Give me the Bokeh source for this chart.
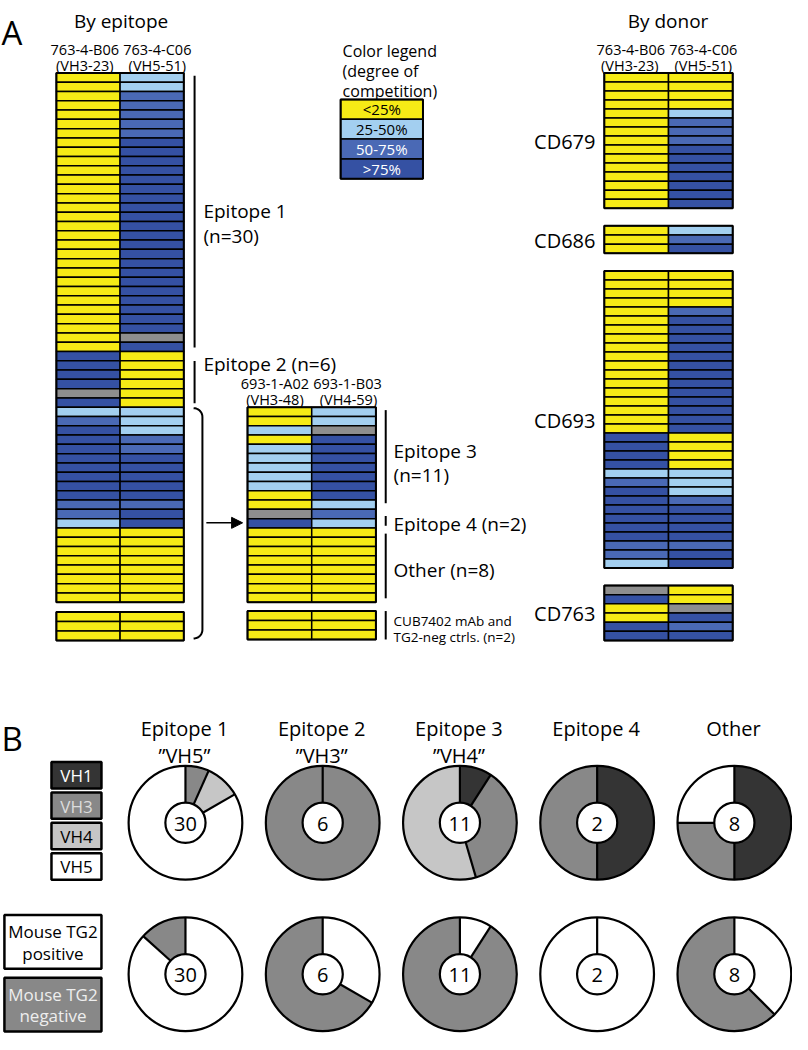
import math
from bokeh.plotting import figure
from bokeh.models import Range1d, Arrow, NormalHead
from bokeh.embed import file_html
from bokeh.resources import INLINE
from bokeh.core.properties import value

# ---------------- data ----------------
# competition codes: Y <25%, L 25-50%, M 50-75%, D >75%, G not determined
legend_codes = ["Y", "L", "M", "D"]
legend_labels = ["<25%", "25-50%", "50-75%", ">75%"]
legend_text_colors = ["black", "black", "white", "white"]
level_colors = {"Y": "#f6eb16", "L": "#a3cff0", "M": "#4a69b5", "D": "#3551a3", "G": "#8e8e8e"}

# By epitope: 763-4-B06 (VH3-23) / 763-4-C06 (VH5-51)
ep_b06 = list("YYYYYYYYYYYYYYYYYYYYYYYYYYYYYY" + "DDDDGD" + "LMDDDDDDDDMML" + "YYYYYYYY")
ep_c06 = list("LLMMMMMDDDDDDDDDDDDDDDDDDDDDGD" + "YYYYYY" + "LLLMMDDDDDMDD" + "YYYYYYYY")
ctrl_b06 = list("YYY")
ctrl_c06 = list("YYY")

# Subgroup: 693-1-A02 (VH3-48) / 693-1-B03 (VH4-59)
sub_a02 = list("YYLYLLLLLYY" + "GD" + "YYYYYYYY")
sub_b03 = list("LLGDDDDDDDL" + "ML" + "YYYYYYYY")
subctrl_a02 = list("YYY")
subctrl_b03 = list("YYY")

# By donor
donor_names = ["CD679", "CD686", "CD693", "CD763"]
donor_b06 = [list("YYYYYYYYYYYYYYY"),
             list("YYY"),
             list("YYYYYYYYYYYYYYYYYY" + "DDDD" + "LMDDDDDDMML"),
             list("GDYYDD")]
donor_c06 = [list("YYYYLMMMDDDDDDD"),
             list("LMD"),
             list("YYYYMDDDDDDDDDDDDD" + "YYYY" + "LLLMDDDDMDD"),
             list("YYGDMD")]

# Part B pies
pie_titles = ["Epitope 1", "Epitope 2", "Epitope 3", "Epitope 4", "Other"]
pie_subtitles = ["\u201dVH5\u201d", "\u201dVH3\u201d", "\u201dVH4\u201d", "", ""]
pie_n = [30, 6, 11, 2, 8]
vh1 = [0, 0, 1, 1, 4]
vh3 = [2, 6, 4, 1, 2]
vh4 = [3, 0, 6, 0, 0]
vh5 = [25, 0, 0, 0, 2]
tg2_pos = [26, 2, 1, 2, 3]
tg2_neg = [4, 4, 10, 0, 5]
vh_labels = ["VH1", "VH3", "VH4", "VH5"]
vh_colors = ["#343434", "#888888", "#c6c6c6", "#ffffff"]
vh_text_colors = ["white", "#dddddd", "black", "black"]
tg2_labels = [("Mouse TG2", "positive"), ("Mouse TG2", "negative")]
tg2_colors = ["#ffffff", "#888888"]
tg2_text_colors = ["black", "#eeeeee"]

FONT = "Open Sans"

# ---------------- figure ----------------
W, H = 792, 1034
p = figure(width=W, height=H, x_range=Range1d(0, 808), y_range=Range1d(0, H * 808 / W),
           output_backend="svg", toolbar_location=None, min_border=0)
p.axis.visible = False
p.grid.visible = False
p.outline_line_color = None
p.background_fill_color = "white"
p.border_fill_color = "white"


def Y(py):
    return 1050 - py


def txt(x, y, s, size, align="left", baseline="alphabetic", color="black"):
    p.text(x=[x], y=[Y(y)], text=[s], text_font=value(FONT),
           text_font_size=value(f"{size}px"), text_align=align,
           text_baseline=baseline, text_color=color)


def block(col_a, col_b, x0, x1, y0, y1):
    n = len(col_a)
    h = (y1 - y0) / n
    xm = (x0 + x1) / 2
    L, R, T, B, C = [], [], [], [], []
    for i, (a, b) in enumerate(zip(col_a, col_b)):
        t = y0 + i * h
        for (l, r, c) in ((x0, xm, a), (xm, x1, b)):
            L.append(l); R.append(r); T.append(Y(t)); B.append(Y(t + h))
            C.append(level_colors[c])
    p.quad(left=L, right=R, top=T, bottom=B, fill_color=C, line_color="black", line_width=1.5)
    p.quad(left=[x0], right=[x1], top=[Y(y0)], bottom=[Y(y1)], fill_color=None,
           line_color="black", line_width=2)


def vbar_line(x, y0, y1):
    p.segment(x0=[x], y0=[Y(y0)], x1=[x], y1=[Y(y1)], line_color="black", line_width=2)


HDR = 14.5

# ---------------- Panel A ----------------
txt(1, 28, "A", 33)
txt(123, 16, "By epitope", 19, align="center")
txt(681, 16, "By donor", 19, align="center")

# left heatmap
txt(86, 45, "763-4-B06", HDR, align="center")
txt(160, 45, "763-4-C06", HDR, align="center")
txt(86, 61, "(VH3-23)", HDR, align="center")
txt(160, 61, "(VH5-51)", HDR, align="center")
block(ep_b06, ep_c06, 57, 187, 69, 609)
block(ctrl_b06, ctrl_c06, 57, 187, 619, 648)

vbar_line(198, 72, 349)
vbar_line(198, 363, 406)
txt(207, 210, "Epitope 1", 19)
txt(207, 235, "(n=30)", 19)
txt(207, 366, "Epitope 2 (n=6)", 19)

# brace ")"
bx, by = [], []
for k in range(11):
    t = math.radians(9 * k)
    bx.append(197 + 9 * math.sin(t)); by.append(Y(420 - 9 * math.cos(t)))
for k in range(11):
    t = math.radians(9 * k)
    bx.append(197 + 9 * math.cos(t)); by.append(Y(637 + 9 * math.sin(t)))
p.line(bx, by, line_color="black", line_width=2)

p.add_layout(Arrow(end=NormalHead(size=11, fill_color="black", line_color="black"),
                   x_start=210, y_start=Y(528), x_end=247, y_end=Y(528),
                   line_color="black", line_width=1.5))

# middle heatmap
txt(280, 386, "693-1-A02", HDR, align="center")
txt(354, 386, "693-1-B03", HDR, align="center")
txt(280, 402, "(VH3-48)", HDR, align="center")
txt(355, 402, "(VH4-59)", HDR, align="center")
block(sub_a02, sub_b03, 252, 383, 410, 609)
block(subctrl_a02, subctrl_b03, 252, 383, 618, 647)

vbar_line(393, 413, 508)
vbar_line(393, 521, 531)
vbar_line(393, 539, 605)
vbar_line(393, 618, 647)
txt(401, 455, "Epitope 3", 19)
txt(401, 479, "(n=11)", 19)
txt(401, 529, "Epitope 4 (n=2)", 19)
txt(401, 576, "Other (n=8)", 19)
txt(401, 628, "CUB7402 mAb and", 13.5)
txt(401, 644, "TG2-neg ctrls. (n=2)", 13.5)

# colour legend
txt(349, 47, "Color legend", 16)
txt(349, 67, "(degree of", 16)
txt(349, 87, "competition)", 16)
lx0, lx1, ly0, ly1 = 347, 431, 96, 177
lh = (ly1 - ly0) / len(legend_codes)
p.quad(left=[lx0] * 4, right=[lx1] * 4,
       top=[Y(ly0 + i * lh) for i in range(4)], bottom=[Y(ly0 + (i + 1) * lh) for i in range(4)],
       fill_color=[level_colors[c] for c in legend_codes], line_color="black", line_width=1.5)
p.quad(left=[lx0], right=[lx1], top=[Y(ly0)], bottom=[Y(ly1)], fill_color=None,
       line_color="black", line_width=2)
for i, (lab, tc) in enumerate(zip(legend_labels, legend_text_colors)):
    txt((lx0 + lx1) / 2, ly0 + (i + 0.5) * lh, lab, 15, align="center", baseline="middle", color=tc)

# right heatmap (by donor)
txt(643, 45, "763-4-B06", HDR, align="center")
txt(717, 45, "763-4-C06", HDR, align="center")
txt(642, 61, "(VH3-23)", HDR, align="center")
txt(717, 61, "(VH5-51)", HDR, align="center")
donor_spans = [(69, 207), (225, 253), (271, 574), (592, 648)]
for name, a, b, (y0, y1) in zip(donor_names, donor_b06, donor_c06, donor_spans):
    block(a, b, 616, 747, y0, y1)
    txt(607, (y0 + y1) / 2 + 1, name, 20, align="right", baseline="middle")

# ---------------- Panel B ----------------
txt(1, 748, "B", 33)

pie_x0, pie_dx = 188.7, 140
row_y = [834, 988.5]
r_out, r_in = 58, 20.5

for j in range(5):
    cx = pie_x0 + j * pie_dx
    txt(cx - 1, 738, pie_titles[j], 20, align="center")
    if pie_subtitles[j]:
        txt(cx - 1, 765, pie_subtitles[j], 20, align="center")
    rows = [([vh1[j], vh3[j], vh4[j], vh5[j]], vh_colors),
            ([tg2_pos[j], tg2_neg[j]], tg2_colors)]
    for (vals, cols), cy_pix in zip(rows, row_y):
        cy = Y(cy_pix)
        total = pie_n[j]
        cum = 0
        bounds = []
        for v, c in zip(vals, cols):
            if v == 0:
                continue
            a0 = math.pi / 2 - 2 * math.pi * cum / total
            a1 = math.pi / 2 - 2 * math.pi * (cum + v) / total
            if v == total:
                p.annulus(x=[cx], y=[cy], inner_radius=r_in, outer_radius=r_out,
                          fill_color=c, line_color=None)
            else:
                p.annular_wedge(x=[cx], y=[cy], inner_radius=r_in, outer_radius=r_out,
                                start_angle=a0, end_angle=a1, direction="clock",
                                fill_color=c, line_color=None)
            bounds.append(a0)
            cum += v
        p.segment(x0=[cx + r_in * math.cos(a) for a in bounds],
                  y0=[cy + r_in * math.sin(a) for a in bounds],
                  x1=[cx + r_out * math.cos(a) for a in bounds],
                  y1=[cy + r_out * math.sin(a) for a in bounds],
                  line_color="black", line_width=2.2)
        p.circle(x=[cx], y=[cy], radius=r_out, fill_color=None, line_color="black", line_width=2.2)
        p.circle(x=[cx], y=[cy], radius=r_in, fill_color="white", line_color="black", line_width=2.2)
        txt(cx, cy_pix + 1, str(total), 20, align="center", baseline="middle")

# VH legend
vh_tops = [772, 803, 834, 865]
for lab, c, tc, t in zip(vh_labels, vh_colors, vh_text_colors, vh_tops):
    p.quad(left=[52], right=[103], top=[Y(t)], bottom=[Y(t + 27)], fill_color=c,
           line_color="black", line_width=2.5)
    txt(77.5, t + 14, lab, 17, align="center", baseline="middle", color=tc)

# TG2 legend
tg_tops = [928, 992]
for (l1, l2), c, tc, t in zip(tg2_labels, tg2_colors, tg2_text_colors, tg_tops):
    p.quad(left=[4], right=[103], top=[Y(t)], bottom=[Y(t + 55)], fill_color=c,
           line_color="black", line_width=2.5)
    txt(53.5, t + 17, l1, 17, align="center", baseline="middle", color=tc)
    txt(53.5, t + 39, l2, 17, align="center", baseline="middle", color=tc)

open("out.html", "w").write(file_html(p, INLINE))
